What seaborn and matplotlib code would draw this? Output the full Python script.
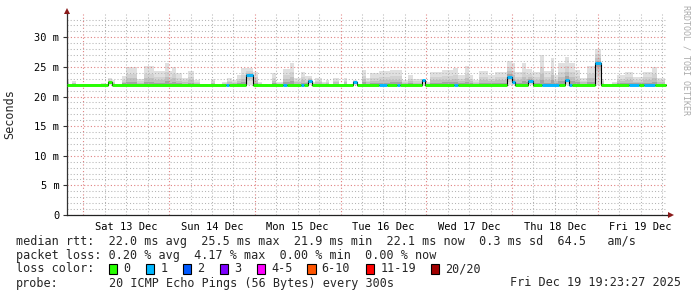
import numpy as np
import pandas as pd
import matplotlib
matplotlib.use("Agg")
import matplotlib.pyplot as plt
from matplotlib.patches import Rectangle
import seaborn as sns

# ---------------- data (time in hours since Fri Dec 12 19:23:27 2025) ----------------
END_H = 168.0
MIDNIGHT0_H = 4.609          # Sat 13 Dec 00:00
MIN_PING_MS = 21.9

smoke_start_h = [0, 0.6, 1.4, 2.5, 9.5, 10.9, 11.5, 12.6, 13.4, 15.4, 16.5, 19.6, 21.6, 24.4,
                 27.4, 28.6, 29.4, 30.5, 32.2, 33.9, 35.6, 37.2, 40.3, 41.4, 43.4, 44.8, 46.2,
                 47.6, 48.7, 52.1, 53.5, 54.6, 57.4, 58.5, 60.5, 62.4, 63.6, 65.5, 66.6, 68.6,
                 69.4, 71.4, 72.5, 73.4, 74.5, 76.2, 77.6, 78.4, 80.1, 81.2, 82.6, 83.7, 84.8,
                 87.4, 90.4, 93.8, 95.5, 96.9, 99.4, 100.5, 101.6, 105.0, 108.1, 109.5, 111.4,
                 112.6, 113.7, 115.4, 117.9, 119.8, 123.2, 124.6, 125.4, 127.4, 128.5, 130.2,
                 132.4, 133.6, 135.5, 136.4, 137.5, 139.4, 140.6, 142.2, 143.6, 145.6, 147.8,
                 149.5, 150.4, 152.6, 154.0, 156.2, 158.5, 161.3, 163.8, 165.2, 167.4]
smoke_top_ms = [22.8, 22.1, 22.6, 22.1, 22.3, 22.1, 23.2, 22.8, 22.1, 23.4, 25.0, 23.0, 25.1, 24.3,
                25.6, 24.3, 25.0, 23.9, 23.2, 24.3, 22.8, 22.1, 22.9, 22.1, 22.4, 23.1, 22.8,
                23.6, 24.8, 24.1, 22.5, 22.1, 24.0, 22.5, 24.6, 25.6, 23.1, 24.1, 23.4, 22.5,
                23.1, 22.5, 22.8, 22.1, 23.1, 22.1, 23.1, 22.1, 22.8, 22.1, 24.5, 23.1, 24.0,
                24.3, 24.4, 22.8, 23.6, 22.9, 23.0, 22.5, 24.1, 24.4, 24.8, 23.6, 25.1,
                23.6, 22.8, 24.3, 23.6, 24.1, 26.0, 25.6, 24.1, 25.6, 24.6, 24.1,
                27.0, 24.3, 26.5, 23.7, 25.6, 26.6, 25.6, 24.4, 23.1, 25.1, 28.1,
                22.9, 22.1, 22.5, 23.6, 24.1, 23.3, 24.1, 25.0, 23.2, 22.1]

median_start_h = [0, 11.5, 12.6, 44.5, 45.4, 50.1, 52.1, 60.5, 61.6, 65.5, 66.4, 67.5, 68.6,
                  80.1, 81.2, 87.4, 89.6, 92.4, 93.2, 99.4, 100.3, 108.4, 109.5, 123.2, 124.6,
                  125.4, 129.1, 130.5, 133.0, 137.8, 139.4, 140.6, 141.4, 147.8, 149.5, 157.4,
                  160.2, 161.6, 164.6]
median_ms = [22.0, 22.4, 22.0, 22.0, 22.0, 23.6, 22.0, 22.0, 22.0, 22.0, 22.0, 22.7, 22.0,
             22.5, 22.0, 22.0, 22.0, 22.0, 22.0, 22.8, 22.0, 22.0, 22.0, 23.3, 22.5,
             22.0, 22.6, 22.0, 22.0, 22.0, 22.8, 22.0, 22.0, 25.6, 22.0, 22.0,
             22.0, 22.0, 22.0]
median_loss = [0, 0, 0, 1, 0, 1, 0, 1, 0, 1, 0, 1, 0,
               1, 0, 1, 0, 1, 0, 1, 0, 1, 0, 1, 1,
               0, 1, 0, 1, 0, 1, 1, 0, 1, 0, 1,
               0, 1, 0]

day_labels = ["Sat 13 Dec", "Sun 14 Dec", "Mon 15 Dec", "Tue 16 Dec",
              "Wed 17 Dec", "Thu 18 Dec", "Fri 19 Dec"]
ytick_values = [0, 5, 10, 15, 20, 25, 30]
ytick_labels = ["0", "5 m", "10 m", "15 m", "20 m", "25 m", "30 m"]

loss_labels = ["0", "1", "2", "3", "4-5", "6-10", "11-19", "20/20"]
loss_colors = ["#26ff00", "#00b8ff", "#0059ff", "#7e00ff", "#ff00ff", "#ff5500", "#ff0000", "#a10000"]

line_median = "median rtt:  22.0 ms avg  25.5 ms max  21.9 ms min  22.1 ms now  0.3 ms sd  64.5   am/s"
line_loss = "packet loss: 0.20 % avg  4.17 % max  0.00 % min  0.00 % now"
line_probe = "20 ICMP Echo Pings (56 Bytes) every 300s"
stamp = "Fri Dec 19 19:23:27 2025"

# ---------------- style ----------------
sns.set_style("white")
plt.rcParams["font.family"] = ["DejaVu Sans Mono"]

W, H = 697, 297
fig = plt.figure(figsize=(W / 100, H / 100), dpi=100)
fig.patch.set_facecolor("white")
ax_l, ax_r, ax_b, ax_t = 67, 667, 215, 13.6
ax = fig.add_axes([ax_l / W, 1 - ax_b / H, (ax_r - ax_l) / W, (ax_b - ax_t) / H])
ax.set_facecolor("white")

# ---------------- smoke ----------------
edges = np.unique(np.r_[smoke_start_h, median_start_h, END_H])
left = edges[:-1]
top = np.array(smoke_top_ms)[np.searchsorted(smoke_start_h, left, side="right") - 1]
med = np.array(median_ms)[np.searchsorted(median_start_h, left, side="right") - 1]
top = np.maximum(top, med)
base = np.minimum(MIN_PING_MS, med)
shades = [(1.0, "#e0e0e0"), (0.6, "#d2d2d2"), (0.35, "#c0c0c0"), (0.16, "#a4a4a4")]
for f, c in shades:
    lo = med - f * (med - base)
    hi = med + f * (top - med)
    ax.fill_between(edges, np.r_[lo, lo[-1]], np.r_[hi, hi[-1]], step="post",
                    color=c, lw=0, zorder=1)

# ---------------- median line ----------------
df = pd.DataFrame({"h": np.r_[median_start_h, END_H - 0.3],
                   "ms": np.r_[median_ms, median_ms[-1]]})
sns.lineplot(data=df, x="h", y="ms", estimator=None, drawstyle="steps-post",
             color="black", lw=0.8, ax=ax, zorder=3)
seg_end = list(median_start_h[1:]) + [END_H - 0.3]
for s, e, v, l in zip(median_start_h, seg_end, median_ms, median_loss):
    ax.plot([s, e], [v, v], color=loss_colors[l], lw=2.1, solid_capstyle="butt", zorder=4)

# ---------------- axes / grid ----------------
ax.set_xlim(0, END_H)
ax.set_ylim(0, 34)
midnights = [MIDNIGHT0_H + 24 * k for k in range(7)]
sixh_k = [k for k in range(28) if k % 4 != 0 and MIDNIGHT0_H + 6 * k < END_H]
ax.set_xticks(midnights)
ax.set_xticklabels([""] * len(midnights))
ax.set_xticks([MIDNIGHT0_H + 6 * k for k in sixh_k], minor=True)
ax.set_xticklabels([day_labels[k // 4] if k % 4 == 2 else "" for k in sixh_k], minor=True)
ax.set_yticks(ytick_values)
ax.set_yticklabels(ytick_labels)
ax.set_yticks([v for v in range(1, 34) if v % 5 != 0], minor=True)

ax.set_axisbelow("line")
ax.grid(which="major", color="#e08080", linestyle=(0, (1, 2)), lw=0.8)
ax.grid(which="minor", color="#b4b4b4", linestyle=(0, (1, 2)), lw=0.75)

ax.tick_params(axis="x", which="both", length=0, pad=5, labelsize=7.5, colors="black")
ax.tick_params(axis="y", which="major", length=3, width=0.8, pad=2.5, labelsize=7.5,
               color="#333333", labelcolor="black", left=True)
ax.tick_params(axis="y", which="minor", length=0)
ax.set_xlabel("")
ax.set_ylabel("")
for s in ["top", "right"]:
    ax.spines[s].set_visible(False)
ax.spines["left"].set_color("#333333")
ax.spines["bottom"].set_color("#222222")
ax.spines["left"].set_linewidth(0.9)
ax.spines["bottom"].set_linewidth(0.9)

# axis arrows
arrow_c = "#8b1a1a"
ax.plot([0, 0], [1, 1 + 3 / 201], transform=ax.transAxes, color="#333333", lw=0.9, clip_on=False)
ax.plot([0], [1 + 3 / 201], transform=ax.transAxes, marker="^", color=arrow_c, ms=4.5,
        clip_on=False, markeredgewidth=0)
ax.plot([1, 1 + 4 / 600], [0, 0], transform=ax.transAxes, color="#222222", lw=0.9, clip_on=False)
ax.plot([1 + 4 / 600], [0], transform=ax.transAxes, marker=">", color=arrow_c, ms=4.5,
        clip_on=False, markeredgewidth=0)

# ---------------- texts ----------------
fs = 8.5
fig.text(10 / W, 1 - 114 / H, "Seconds", rotation=90, ha="center", va="center", fontsize=fs)
fig.text(686 / W, 1 - 5 / H, "RRDTOOL / TOBI OETIKER", rotation=270, ha="center", va="top",
         fontsize=6, color="#aaaaaa")

rows_y = [241.5, 255.3, 269.0, 283.0]
fig.text(16 / W, 1 - rows_y[0] / H, line_median, ha="left", va="center", fontsize=fs)
fig.text(16 / W, 1 - rows_y[1] / H, line_loss, ha="left", va="center", fontsize=fs)
fig.text(16 / W, 1 - rows_y[2] / H, "loss color:", ha="left", va="center", fontsize=fs)
box_x = [108.7, 145.7, 182.7, 219.7, 256.7, 307.0, 365.7, 430.7]
for bx, lab, col in zip(box_x, loss_labels, loss_colors):
    fig.add_artist(Rectangle((bx / W, 1 - (rows_y[2] + 4.8) / H), 8.6 / W, 9.6 / H,
                             transform=fig.transFigure, facecolor=col, edgecolor="black", lw=0.8))
    fig.text((bx + 14.5) / W, 1 - rows_y[2] / H, lab, ha="left", va="center", fontsize=fs)
fig.text(16 / W, 1 - rows_y[3] / H, "probe:", ha="left", va="center", fontsize=fs)
fig.text(108.6 / W, 1 - rows_y[3] / H, line_probe, ha="left", va="center", fontsize=fs)
fig.text(681 / W, 1 - rows_y[3] / H, stamp, ha="right", va="center", fontsize=fs)

fig.savefig("out.png", dpi=100, facecolor="white")
